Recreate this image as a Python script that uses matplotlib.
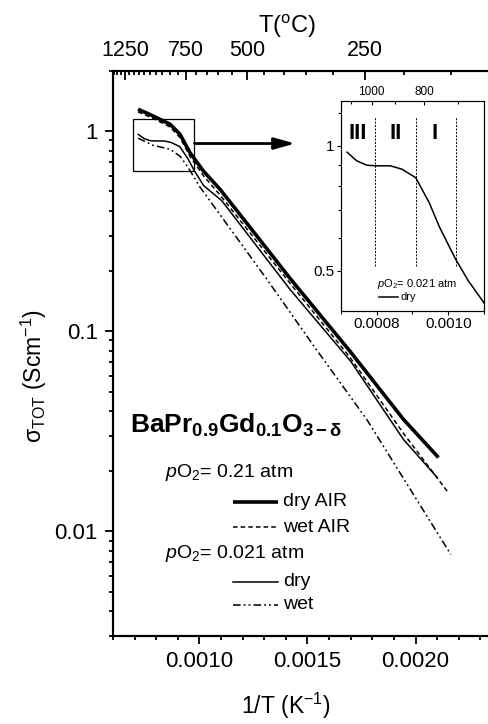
import matplotlib
matplotlib.use('Agg')
import matplotlib.pyplot as plt
from matplotlib.patches import Rectangle
from matplotlib.ticker import FixedLocator, FixedFormatter, MultipleLocator, LogLocator, NullFormatter, FuncFormatter

plt.rcParams['font.family'] = ['Liberation Sans', 'DejaVu Sans']
plt.rcParams['mathtext.fontset'] = 'custom'
plt.rcParams['mathtext.rm'] = 'Liberation Sans'
plt.rcParams['mathtext.it'] = 'Liberation Sans:italic'
plt.rcParams['mathtext.bf'] = 'Liberation Sans:bold'

# 1/T (K^-1) and total conductivity (S/cm)
x_dry_air = [0.000716, 0.000785, 0.000864, 0.000910, 0.000956, 0.001018, 0.001095,
             0.001234, 0.001419, 0.001697, 0.001944, 0.002106]
s_dry_air = [1.288, 1.193, 1.084, 0.966, 0.782, 0.633, 0.513,
             0.331, 0.184, 0.0794, 0.0363, 0.0234]

x_wet_air = [0.000716, 0.000785, 0.000864, 0.000910, 0.000956, 0.001018, 0.001095,
             0.001419, 0.001697, 0.001944, 0.002152]
s_wet_air = [1.25, 1.16, 1.05, 0.93, 0.75, 0.60, 0.48,
             0.174, 0.074, 0.0309, 0.0156]

x_dry_low = [0.000717, 0.000744, 0.000772, 0.000796, 0.000838, 0.000871, 0.000909,
             0.000947, 0.000975, 0.001020, 0.001103, 0.001419, 0.001700, 0.001944, 0.002100]
s_dry_low = [0.964, 0.919, 0.897, 0.894, 0.894, 0.877, 0.837,
             0.728, 0.638, 0.534, 0.45, 0.162, 0.0708, 0.0288, 0.0186]

x_wet_low = [0.000716, 0.000785, 0.000864, 0.000910, 0.000947, 0.001003,
             0.001312, 0.001540, 0.001774, 0.002163]
s_wet_low = [0.923, 0.851, 0.813, 0.75, 0.661, 0.525,
             0.182, 0.0813, 0.0363, 0.00767]

# inset: dry, pO2 = 0.021 atm
x_inset = [0.000717, 0.000744, 0.000772, 0.000796, 0.000838, 0.000871, 0.000909,
           0.000947, 0.000975, 0.001020, 0.001056, 0.001103]
s_inset = [0.964, 0.919, 0.897, 0.894, 0.894, 0.877, 0.837,
           0.728, 0.638, 0.534, 0.473, 0.415]
region_bounds = [0.000796, 0.000909, 0.001021]
region_names = ['III', 'II', 'I']

top_major_C = [1250, 750, 500, 250]
top_minor_C = list(range(1400, 99, -50))
inset_top_major_C = [1000, 800]
inset_top_minor_C = [1100, 900, 700]

zoom_box = (0.000693, 0.631, 0.000977, 1.148)


def inv_T(tc):
    return 1.0 / (tc + 273.15)


fig = plt.figure(figsize=(4.89, 7.24), dpi=100)
ax = fig.add_axes([113 / 489, 88 / 724, 389 / 489, 565 / 724])

ax.plot(x_dry_air, s_dry_air, color='k', lw=2.6, solid_capstyle='butt')
ax.plot(x_wet_air, s_wet_air, color='k', lw=1.1, ls=(0, (3, 2)))
ax.plot(x_dry_low, s_dry_low, color='k', lw=1.1)
ax.plot(x_wet_low, s_wet_low, color='k', lw=1.1, ls=(0, (5, 2, 1.2, 2, 1.2, 2)))

ax.set_yscale('log')
ax.set_xlim(0.0006, 0.0024)
ax.set_ylim(0.003, 2)
ax.xaxis.set_major_locator(FixedLocator([0.0010, 0.0015, 0.0020]))
ax.xaxis.set_major_formatter(FuncFormatter(lambda v, p: '%.4f' % v))
ax.xaxis.set_minor_locator(MultipleLocator(0.0001))
ax.yaxis.set_major_locator(FixedLocator([0.01, 0.1, 1]))
ax.yaxis.set_major_formatter(FixedFormatter(['0.01', '0.1', '1']))
ax.yaxis.set_minor_locator(LogLocator(subs=range(2, 10)))
ax.yaxis.set_minor_formatter(NullFormatter())
ax.tick_params(which='both', direction='out', width=1.3, labelsize=16, pad=5)
ax.tick_params(which='major', length=6)
ax.tick_params(which='minor', length=3)
ax.tick_params(top=False, right=False, which='both')
for s in ax.spines.values():
    s.set_linewidth(1.5)
ax.spines['right'].set_visible(False)

ax.set_xlabel('1/T (K$^{-1}$)', fontsize=16.5)
ax.xaxis.set_label_coords(0.445, -0.097)
ax.set_ylabel('σ$_{\\mathrm{TOT}}$ (Scm$^{-1}$)', fontsize=16.5)
ax.yaxis.set_label_coords(-0.165, 0.46)

# top temperature axis
axt = ax.twiny()
axt.set_xlim(0.0005939, 0.0026278)
axt.xaxis.set_major_locator(FixedLocator([inv_T(t) for t in top_major_C]))
axt.xaxis.set_major_formatter(FixedFormatter([str(t) for t in top_major_C]))
axt.xaxis.set_minor_locator(FixedLocator([inv_T(t) for t in top_minor_C]))
axt.tick_params(which='both', direction='in', width=1.3, labelsize=15.5, pad=7)
axt.tick_params(which='major', length=6.5)
axt.tick_params(which='minor', length=3)
for s in axt.spines.values():
    s.set_linewidth(1.5)
axt.spines['right'].set_visible(False)
axt.set_xlabel('T($^{\\mathrm{o}}$C)', fontsize=17)
axt.xaxis.set_label_coords(0.447, 1.067)

# zoom box and arrow
ax.add_patch(Rectangle((zoom_box[0], zoom_box[1]), zoom_box[2] - zoom_box[0],
                       zoom_box[3] - zoom_box[1], fill=False, lw=0.9, ec='k'))
ax.annotate('', xy=(0.001443, 0.868), xytext=(zoom_box[2], 0.868),
            arrowprops=dict(arrowstyle='-|>,head_length=0.9,head_width=0.25',
                            lw=2, color='k', mutation_scale=14, shrinkA=0, shrinkB=0))

# compound and legend
ax.text(0.044, 0.359, r'$\mathbf{BaPr}_{\mathbf{0.9}}\mathbf{Gd}_{\mathbf{0.1}}\mathbf{O}_{\mathbf{3-δ}}$',
        transform=ax.transAxes, fontsize=19, va='baseline', ha='left')
ax.text(0.134, 0.2885, r'$\mathit{p}$O$_2$= 0.21 atm', transform=ax.transAxes,
        fontsize=14, va='center', ha='left')
ax.text(0.134, 0.1469, r'$\mathit{p}$O$_2$= 0.021 atm', transform=ax.transAxes,
        fontsize=14, va='center', ha='left')
leg_rows = [(0.2372, 'dry AIR', dict(lw=2.6, solid_capstyle='butt')),
            (0.1929, 'wet AIR', dict(lw=1.1, ls=(0, (3, 2)))),
            (0.0956, 'dry', dict(lw=1.1)),
            (0.0549, 'wet', dict(lw=1.1, ls=(0, (5, 2, 1.2, 2, 1.2, 2))))]
for yy, lab, kw in leg_rows:
    ax.plot([0.3085, 0.4242], [yy, yy], transform=ax.transAxes, color='k', **kw)
    ax.text(0.437, yy, lab, transform=ax.transAxes, fontsize=14, va='center', ha='left')

# inset
axi = fig.add_axes([341 / 489, 413 / 724, 143 / 489, 210 / 724])
axi.plot(x_inset, s_inset, color='k', lw=1.1)
axi.set_yscale('log')
axi.set_xlim(0.0007, 0.0011)
axi.set_ylim(0.4, 1.28)
ytop = 1.173
ybot = 0.512
for xb in region_bounds:
    axi.plot([xb, xb], [ybot, ytop], color='k', lw=0.7, ls=(0, (2, 1.5)))
for xf, name in zip([0.119, 0.383, 0.657], region_names):
    axi.text(xf, 0.843, name, transform=axi.transAxes, fontsize=16, fontweight='bold',
             ha='center', va='center')
axi.xaxis.set_major_locator(FixedLocator([0.0008, 0.0010]))
axi.xaxis.set_major_formatter(FuncFormatter(lambda v, p: '%.4f' % v))
axi.xaxis.set_minor_locator(FixedLocator([0.0007, 0.0009, 0.0011]))
axi.yaxis.set_major_locator(FixedLocator([0.5, 1]))
axi.yaxis.set_major_formatter(FixedFormatter(['0.5', '1']))
axi.yaxis.set_minor_locator(FixedLocator([0.6, 0.7, 0.8, 0.9, 1.2]))
axi.yaxis.set_minor_formatter(NullFormatter())
axi.tick_params(which='both', direction='out', width=0.8, labelsize=11, pad=1.5)
axi.tick_params(which='major', length=3)
axi.tick_params(which='minor', length=2)
axi.tick_params(top=False, right=False, which='both')
for s in axi.spines.values():
    s.set_linewidth(0.8)
axi.text(0.25, 0.127, r'$\mathit{p}$O$_2$= 0.021 atm', transform=axi.transAxes,
         fontsize=8, va='center', ha='left')
axi.plot([0.266, 0.399], [0.068, 0.068], transform=axi.transAxes, color='k', lw=1.1)
axi.text(0.413, 0.068, 'dry', transform=axi.transAxes, fontsize=8, va='center', ha='left')

axit = axi.twiny()
axit.set_xlim(0.0007, 0.0011)
axit.xaxis.set_major_locator(FixedLocator([inv_T(t) for t in inset_top_major_C]))
axit.xaxis.set_major_formatter(FixedFormatter([str(t) for t in inset_top_major_C]))
axit.xaxis.set_minor_locator(FixedLocator([inv_T(t) for t in inset_top_minor_C]))
axit.tick_params(which='both', direction='in', width=0.8, labelsize=8.5, pad=2)
axit.tick_params(which='major', length=3)
axit.tick_params(which='minor', length=2)
for s in axit.spines.values():
    s.set_linewidth(0.8)

fig.savefig('out.png', dpi=100)
